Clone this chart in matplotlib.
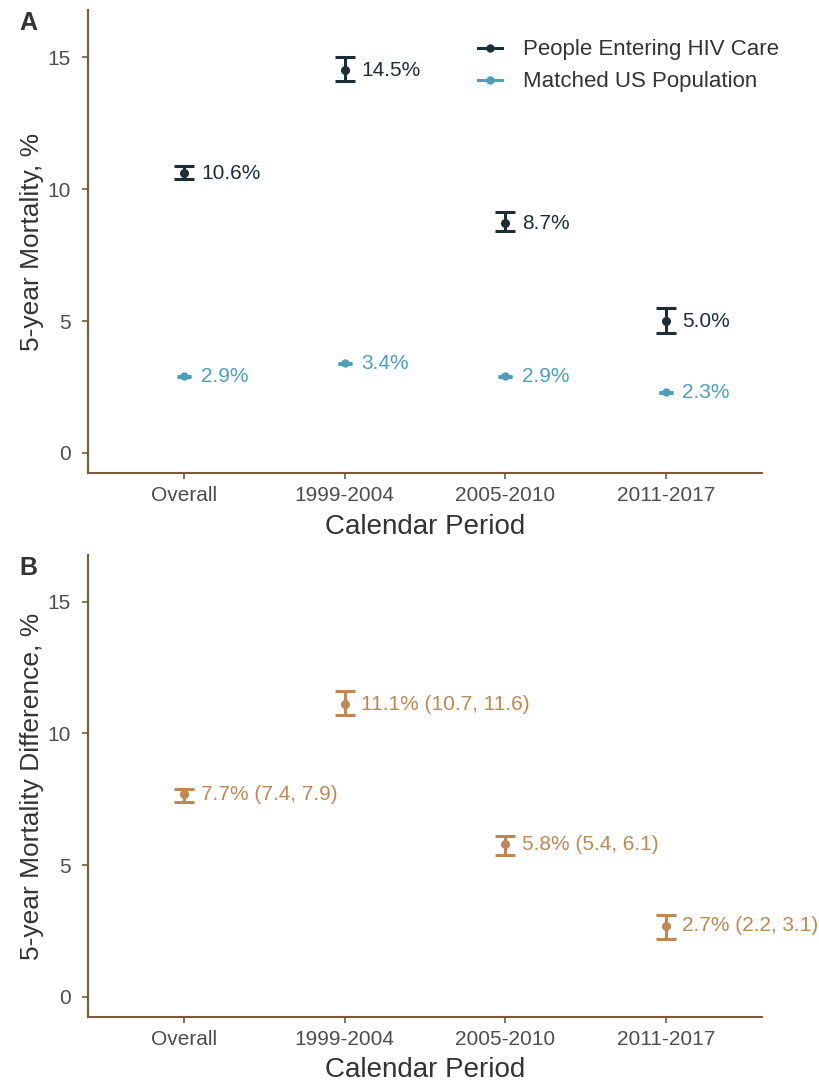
import matplotlib
matplotlib.use("Agg")
import matplotlib.pyplot as plt
from matplotlib.lines import Line2D

plt.rcParams['font.family'] = ['Liberation Sans', 'DejaVu Sans']

periods = ["Overall", "1999-2004", "2005-2010", "2011-2017"]

hiv_est = [10.6, 14.5, 8.7, 5.0]
hiv_lo = [10.38, 14.1, 8.4, 4.55]
hiv_hi = [10.88, 15.0, 9.13, 5.49]

us_est = [2.9, 3.4, 2.9, 2.3]
us_lo = [2.88, 3.38, 2.88, 2.28]
us_hi = [2.92, 3.42, 2.92, 2.32]

diff_est = [7.7, 11.1, 5.8, 2.7]
diff_lo = [7.4, 10.7, 5.4, 2.2]
diff_hi = [7.9, 11.6, 6.1, 3.1]

yticks = [0, 5, 10, 15]

C_HIV = "#1d2d36"
C_US = "#4c9fb7"
C_DIFF = "#bf8853"
C_AXIS = "#7a5a3c"
C_TICK = "#4d4d4d"
C_TITLE = "#333333"

fig = plt.figure(figsize=(8.2, 10.9), dpi=100)
axA = fig.add_axes([0.1073, 0.566, 0.822, 0.4248])
axB = fig.add_axes([0.1073, 0.067, 0.822, 0.424])

x = list(range(len(periods)))


def draw_series(ax, est, lo, hi, color, labels, capsize=7, ms=5.5):
    yerr = [[e - l for e, l in zip(est, lo)], [h - e for e, h in zip(est, hi)]]
    ax.errorbar(x, est, yerr=yerr, fmt='o', color=color, ms=ms, elinewidth=2.2,
                capsize=capsize, capthick=2.2, zorder=3)
    for xi, yi, lab in zip(x, est, labels):
        ax.annotate(lab, (xi, yi), xytext=(12, 0), textcoords='offset points',
                    va='center', ha='left', fontsize=15, color=color)


def style(ax, ylabel):
    ax.set_xlim(-0.6, 3.6)
    ax.set_ylim(-0.76, 16.78)
    ax.set_xticks(x)
    ax.set_xticklabels(periods)
    ax.set_yticks(yticks)
    for s in ['top', 'right']:
        ax.spines[s].set_visible(False)
    for s in ['left', 'bottom']:
        ax.spines[s].set_color(C_AXIS)
        ax.spines[s].set_linewidth(1.5)
    ax.tick_params(axis='both', colors=C_AXIS, length=4.5, width=1.2,
                   labelsize=15, labelcolor=C_TICK)
    ax.tick_params(axis='y', pad=8)
    ax.tick_params(axis='x', pad=5)
    ax.set_xlabel("Calendar Period", fontsize=20, color=C_TITLE, labelpad=6)
    ax.set_ylabel(ylabel, fontsize=19, color=C_TITLE, labelpad=2)


draw_series(axA, hiv_est, hiv_lo, hiv_hi, C_HIV, [f"{v:.1f}%" for v in hiv_est])
draw_series(axA, us_est, us_lo, us_hi, C_US, [f"{v:.1f}%" for v in us_est], capsize=5, ms=5)
style(axA, "5-year Mortality, %")

handles = [Line2D([0], [0], color=C_HIV, lw=2.2, marker='o', ms=5),
           Line2D([0], [0], color=C_US, lw=2.2, marker='o', ms=5)]
leg = axA.legend(handles, ["People Entering HIV Care", "Matched US Population"],
                 loc='upper right', bbox_to_anchor=(1.055, 0.98), frameon=False,
                 fontsize=16, handlelength=1.1, handletextpad=0.95, labelspacing=0.5)
for t in leg.get_texts():
    t.set_color(C_TITLE)

diff_labels = [f"{e:.1f}% ({l:.1f}, {h:.1f})" for e, l, h in zip(diff_est, diff_lo, diff_hi)]
draw_series(axB, diff_est, diff_lo, diff_hi, C_DIFF, diff_labels)
style(axB, "5-year Mortality Difference, %")

fig.text(0.034, 0.979, "A", fontsize=18, fontweight='bold', color=C_TITLE, va='center', ha='center')
fig.text(0.034, 0.479, "B", fontsize=18, fontweight='bold', color=C_TITLE, va='center', ha='center')

fig.savefig("out.png", dpi=100)
